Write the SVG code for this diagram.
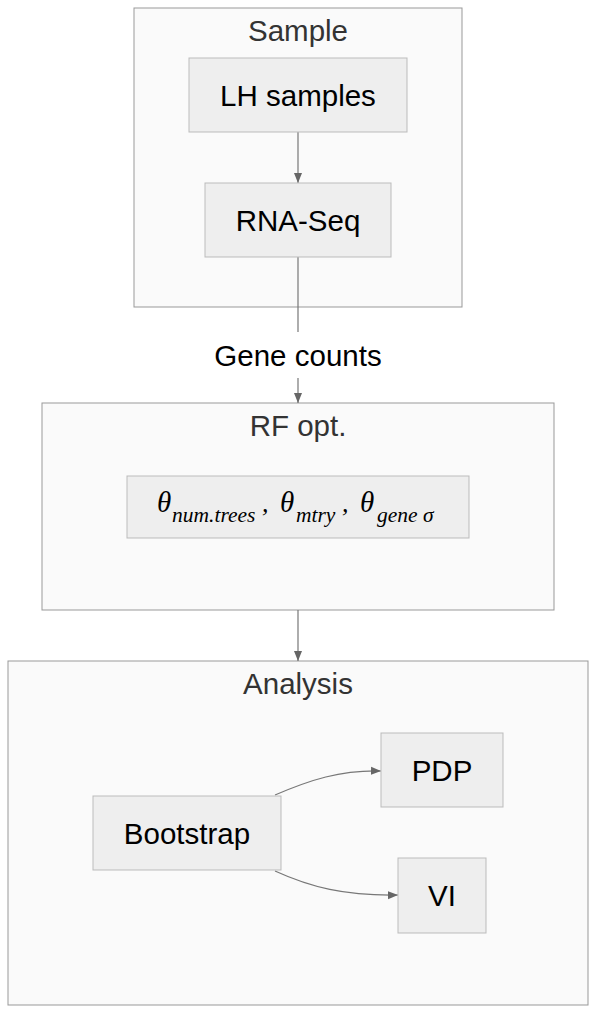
<svg xmlns="http://www.w3.org/2000/svg" width="596" height="1014" viewBox="0 0 596 1014">
<style>
.cluster{fill:#fafafa;stroke:#999;stroke-width:1}
.node{fill:#eeeeee;stroke:#bbbbbb;stroke-width:1}
.ct{font-family:"Liberation Sans",Arial,sans-serif;font-size:29.5px;fill:#333;text-anchor:middle}
.nt{font-family:"Liberation Sans",Arial,sans-serif;font-size:29.5px;fill:#000;text-anchor:middle}
.edge{fill:none;stroke:#777;stroke-width:1.2}
.m{font-family:"Liberation Serif","Times New Roman",serif;font-style:italic;fill:#000}
</style>
<defs>
<marker id="arr" viewBox="0 0 10 10" refX="10" refY="5" markerWidth="10" markerHeight="10" markerUnits="userSpaceOnUse" orient="auto">
<path d="M0,1 L10,5 L0,9 z" fill="#666"/>
</marker>
</defs>
<g id="cluster-sample">
<rect class="cluster" x="134" y="8" width="328" height="299"/>
<text class="ct" x="298" y="41">Sample</text>
</g>
<g id="cluster-rf">
<rect class="cluster" x="42" y="403" width="512" height="207"/>
<text class="ct" x="298" y="436">RF opt.</text>
</g>
<g id="cluster-analysis">
<rect class="cluster" x="8" y="661" width="580" height="344"/>
<text class="ct" x="298" y="694">Analysis</text>
</g>
<g id="connectors">
<line class="edge" x1="298" y1="132" x2="298" y2="183" marker-end="url(#arr)"/>
<line class="edge" x1="298" y1="257" x2="298" y2="332"/>
<line class="edge" x1="298" y1="378" x2="298" y2="403" marker-end="url(#arr)"/>
<line class="edge" x1="298" y1="610" x2="298" y2="661" marker-end="url(#arr)"/>
<path class="edge" d="M275,795 C310,780 340,770 381,771" marker-end="url(#arr)"/>
<path class="edge" d="M275,871 C310,887 345,896 398,895" marker-end="url(#arr)"/>
<text class="nt" x="298" y="366">Gene counts</text>
</g>
<g id="node-lh">
<rect class="node" x="189" y="58" width="218" height="74"/>
<text class="nt" x="298" y="106">LH samples</text>
</g>
<g id="node-rna">
<rect class="node" x="205" y="183" width="186" height="74"/>
<text class="nt" x="298" y="231">RNA-Seq</text>
</g>
<g id="node-theta">
<rect class="node" x="127" y="476" width="342" height="62"/>
<text class="m" font-size="29" x="157" y="512">θ</text>
<text class="m" font-size="21.5" x="172" y="522">num.trees</text>
<text class="m" font-size="26" x="262" y="512">,</text>
<text class="m" font-size="29" x="280" y="512">θ</text>
<text class="m" font-size="21.5" x="296" y="522">mtry</text>
<text class="m" font-size="26" x="342" y="512">,</text>
<text class="m" font-size="29" x="360" y="512">θ</text>
<text class="m" font-size="21.5" x="377" y="522">gene σ</text>
</g>
<g id="node-bootstrap">
<rect class="node" x="93" y="796" width="188" height="74"/>
<text class="nt" x="187" y="844">Bootstrap</text>
</g>
<g id="node-pdp">
<rect class="node" x="381" y="733" width="122" height="74"/>
<text class="nt" x="442" y="781">PDP</text>
</g>
<g id="node-vi">
<rect class="node" x="398" y="858" width="88" height="75"/>
<text class="nt" x="442" y="906">VI</text>
</g>
</svg>
